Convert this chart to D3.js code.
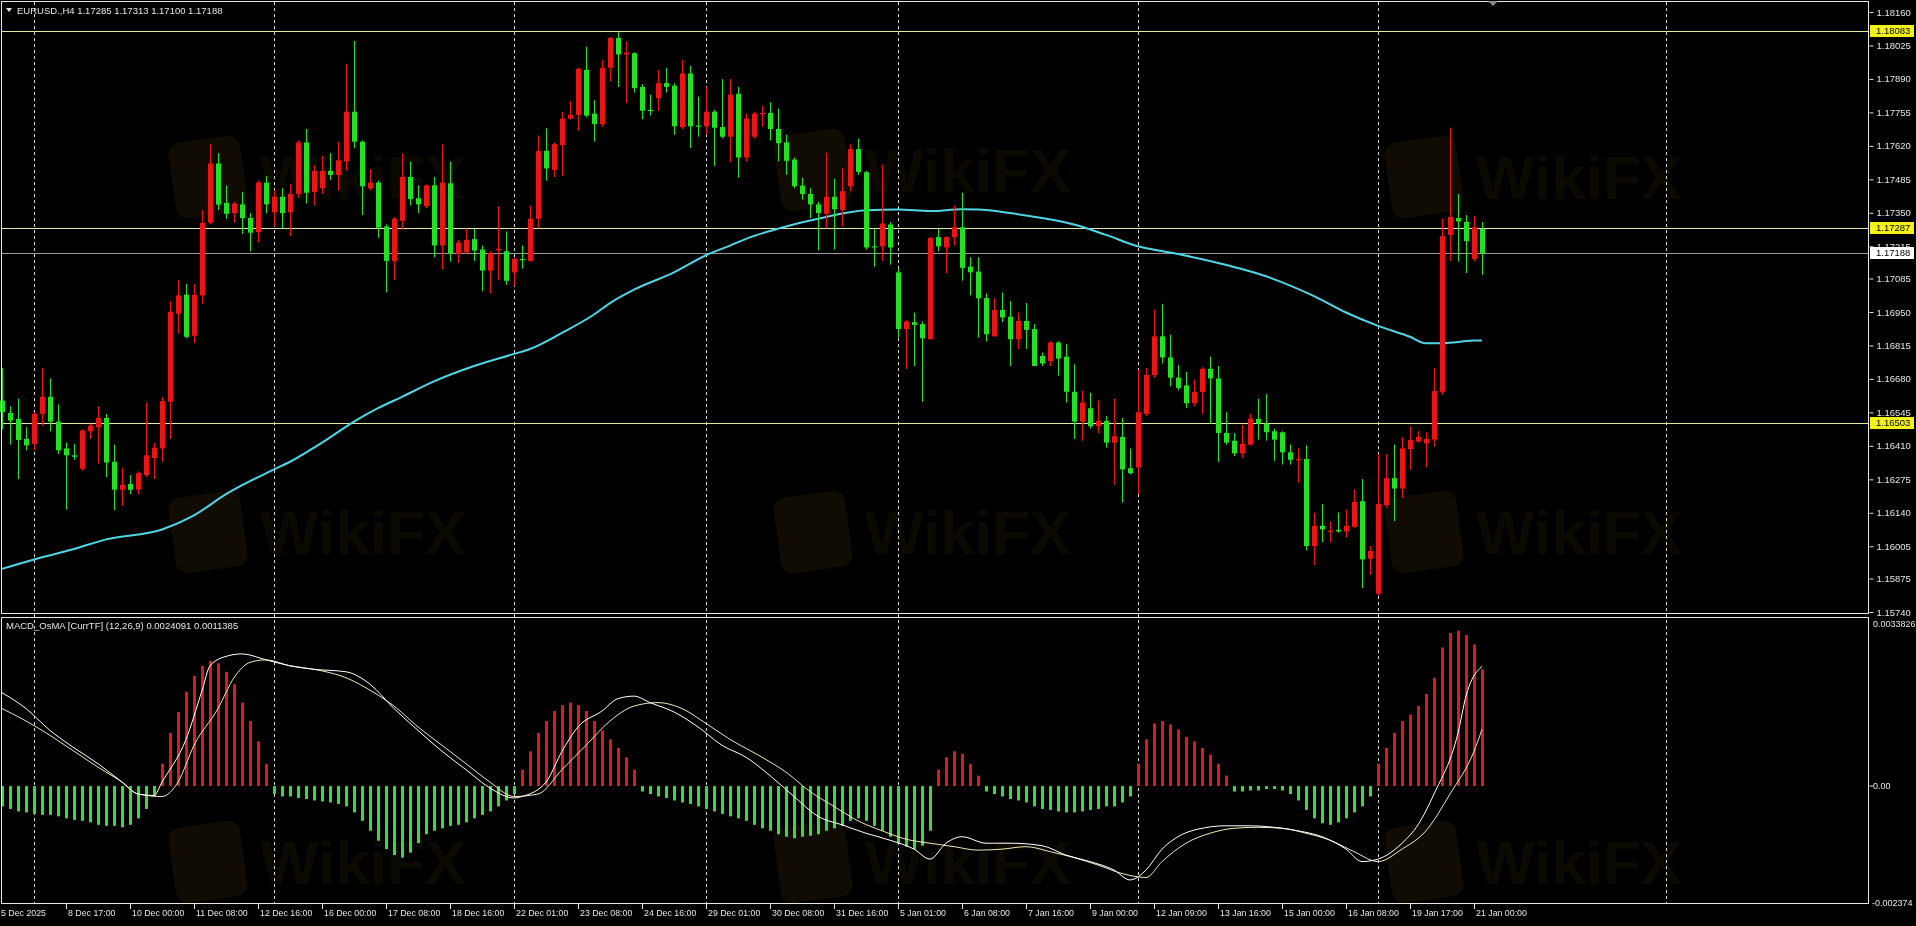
<!DOCTYPE html>
<html><head><meta charset="utf-8">
<script src="https://cdn.jsdelivr.net/npm/d3@7"></script>
<style>html,body{margin:0;padding:0;background:#000;overflow:hidden}</style>
</head><body><svg id="c" width="1916" height="926"></svg>
<script>
// ---------- DATA ----------
const symbolTitle = "EURUSD.,H4  1.17285 1.17313 1.17100 1.17188";
const macdTitle = "MACD_OsMA [CurrTF] (12,26,9) 0.0024091 0.0011385";

const open = [
1.16593,1.16543,1.16519,1.16438,1.16418,1.16539,1.16608,1.16508,1.16400,1.16372,
1.16318,1.16469,1.16485,1.16523,1.16346,1.16233,1.16256,1.16233,1.16292,1.16361,
1.16400,1.16588,1.16943,1.17020,1.16854,1.17017,1.17310,1.17549,1.17390,1.17349,
1.17384,1.17329,1.17272,1.17472,1.17352,1.17415,1.17352,1.17426,1.17634,1.17434,
1.17449,1.17519,1.17503,1.17557,1.17758,1.17637,1.17449,1.17472,1.17295,1.17156,
1.17318,1.17495,1.17409,1.17377,1.17461,1.17218,1.17469,1.17184,1.17191,1.17244,
1.17202,1.17117,1.17199,1.17195,1.17110,1.17164,1.17156,1.17326,1.17600,1.17523,
1.17623,1.17730,1.17745,1.17927,1.17750,1.17708,1.17935,1.18055,1.17989,1.17994,
1.17858,1.17765,1.17812,1.17873,1.17863,1.17696,1.17912,1.17702,1.17699,1.17758,
1.17696,1.17657,1.17830,1.17573,1.17657,1.17750,1.17753,1.17688,1.17634,1.17565,
1.17460,1.17426,1.17384,1.17346,1.17415,1.17361,1.17457,1.17607,1.17514,1.17215,
1.17215,1.17303,1.17110,1.16881,1.16909,1.16901,1.16840,1.17252,1.17210,1.17252,
1.17292,1.17133,1.17113,1.17006,1.16852,1.16958,1.16931,1.16840,1.16914,1.16881,
1.16773,1.16752,1.16827,1.16770,1.16628,1.16508,1.16562,1.16489,1.16511,1.16423,
1.16446,1.16320,1.16323,1.16539,1.16696,1.16852,1.16767,1.16685,1.16654,1.16582,
1.16627,1.16721,1.16682,1.16462,1.16431,1.16380,1.16415,1.16519,1.16500,1.16469,
1.16465,1.16384,1.16354,1.16357,1.16006,1.16088,1.16063,1.16071,1.16065,1.16084,
1.16187,1.15955,1.15814,1.16171,1.16280,1.16238,1.16397,1.16428,1.16420,1.16435,
1.16628,1.17261,1.17329,1.17313,1.17164,1.17285];
const high = [
1.16724,1.16570,1.16600,1.16485,1.16546,1.16724,1.16682,1.16577,1.16423,1.16418,
1.16477,1.16500,1.16570,1.16539,1.16415,1.16323,1.16292,1.16307,1.16585,1.16423,
1.16608,1.16994,1.17079,1.17063,1.17063,1.17361,1.17627,1.17591,1.17461,1.17395,
1.17434,1.17349,1.17480,1.17498,1.17441,1.17449,1.17465,1.17642,1.17688,1.17542,
1.17580,1.17591,1.17637,1.17951,1.18043,1.17642,1.17526,1.17480,1.17303,1.17333,
1.17588,1.17557,1.17461,1.17465,1.17495,1.17627,1.17557,1.17241,1.17287,1.17286,
1.17218,1.17195,1.17377,1.17275,1.17171,1.17218,1.17380,1.17662,1.17691,1.17634,
1.17758,1.17801,1.17935,1.18020,1.17804,1.17966,1.18059,1.18079,1.18040,1.17997,
1.17869,1.17827,1.17927,1.17935,1.17873,1.17966,1.17943,1.17819,1.17858,1.17765,
1.17889,1.17889,1.17858,1.17750,1.17758,1.17781,1.17796,1.17770,1.17665,1.17573,
1.17492,1.17449,1.17395,1.17593,1.17488,1.17529,1.17627,1.17650,1.17519,1.17287,
1.17545,1.17313,1.17125,1.16917,1.16948,1.16912,1.17252,1.17287,1.17256,1.17380,
1.17431,1.17171,1.17171,1.17025,1.17005,1.17029,1.16994,1.16948,1.16986,1.16901,
1.16786,1.16832,1.16832,1.16820,1.16739,1.16631,1.16624,1.16593,1.16531,1.16600,
1.16523,1.16400,1.16716,1.16724,1.16960,1.16983,1.16858,1.16736,1.16708,1.16678,
1.16727,1.16770,1.16732,1.16546,1.16462,1.16495,1.16539,1.16600,1.16619,1.16480,
1.16469,1.16415,1.16400,1.16412,1.16141,1.16176,1.16104,1.16142,1.16153,1.16233,
1.16276,1.16006,1.16377,1.16377,1.16415,1.16446,1.16488,1.16469,1.16465,1.16724,
1.17326,1.17693,1.17426,1.17341,1.17338,1.17313];
const low = [
1.16477,1.16415,1.16276,1.16392,1.16392,1.16492,1.16469,1.16377,1.16153,1.16354,
1.16310,1.16438,1.16338,1.16284,1.16150,1.16168,1.16215,1.16215,1.16284,1.16276,
1.16346,1.16438,1.16863,1.16844,1.16824,1.16983,1.17303,1.17361,1.17326,1.17310,
1.17264,1.17195,1.17230,1.17349,1.17295,1.17287,1.17256,1.17411,1.17387,1.17380,
1.17426,1.17483,1.17441,1.17519,1.17611,1.17341,1.17441,1.17249,1.17029,1.17079,
1.17282,1.17380,1.17349,1.17369,1.17171,1.17122,1.17153,1.17148,1.17184,1.17156,
1.17033,1.17025,1.17079,1.17060,1.17056,1.17125,1.17153,1.17287,1.17480,1.17495,
1.17498,1.17727,1.17681,1.17735,1.17637,1.17696,1.17881,1.17858,1.17792,1.17835,
1.17727,1.17742,1.17761,1.17835,1.17665,1.17688,1.17611,1.17657,1.17665,1.17539,
1.17650,1.17554,1.17492,1.17557,1.17650,1.17699,1.17642,1.17557,1.17503,1.17449,
1.17403,1.17329,1.17199,1.17287,1.17202,1.17295,1.17437,1.17503,1.17202,1.17133,
1.17156,1.17141,1.16847,1.16721,1.16732,1.16588,1.16840,1.17195,1.17107,1.17218,
1.17076,1.17017,1.16847,1.16832,1.16850,1.16909,1.16732,1.16801,1.16801,1.16732,
1.16732,1.16732,1.16693,1.16585,1.16438,1.16431,1.16480,1.16462,1.16403,1.16253,
1.16181,1.16295,1.16215,1.16531,1.16685,1.16742,1.16650,1.16634,1.16562,1.16570,
1.16539,1.16500,1.16346,1.16415,1.16369,1.16361,1.16412,1.16435,1.16431,1.16350,
1.16335,1.16335,1.16261,1.15988,1.15929,1.16022,1.16022,1.16060,1.16042,1.16079,
1.15837,1.15890,1.15806,1.16161,1.16107,1.16199,1.16315,1.16423,1.16323,1.16408,
1.16616,1.17156,1.17153,1.17107,1.17156,1.17100];
const close = [
1.16546,1.16512,1.16434,1.16412,1.16539,1.16608,1.16508,1.16392,1.16372,1.16366,
1.16472,1.16492,1.16523,1.16343,1.16233,1.16253,1.16233,1.16300,1.16372,1.16403,
1.16590,1.16951,1.17017,1.16850,1.17020,1.17310,1.17549,1.17383,1.17346,1.17387,
1.17329,1.17270,1.17472,1.17384,1.17415,1.17349,1.17426,1.17634,1.17431,1.17519,
1.17519,1.17503,1.17562,1.17758,1.17637,1.17457,1.17472,1.17290,1.17156,1.17326,
1.17495,1.17406,1.17384,1.17461,1.17218,1.17472,1.17184,1.17230,1.17241,1.17198,
1.17117,1.17187,1.17205,1.17076,1.17164,1.17159,1.17326,1.17599,1.17529,1.17627,
1.17730,1.17745,1.17931,1.17742,1.17708,1.17935,1.18055,1.17989,1.17997,1.17853,
1.17762,1.17762,1.17873,1.17858,1.17699,1.17912,1.17699,1.17699,1.17758,1.17693,
1.17657,1.17827,1.17573,1.17730,1.17750,1.17753,1.17688,1.17631,1.17560,1.17457,
1.17426,1.17384,1.17349,1.17415,1.17364,1.17437,1.17607,1.17515,1.17210,1.17212,
1.17307,1.17210,1.16881,1.16912,1.16898,1.16844,1.17249,1.17215,1.17252,1.17292,
1.17128,1.17110,1.17005,1.16860,1.16958,1.16928,1.16840,1.16914,1.16878,1.16732,
1.16742,1.16827,1.16762,1.16628,1.16508,1.16585,1.16489,1.16511,1.16423,1.16449,
1.16315,1.16300,1.16546,1.16696,1.16852,1.16767,1.16685,1.16644,1.16582,1.16628,
1.16721,1.16682,1.16462,1.16423,1.16380,1.16418,1.16520,1.16500,1.16465,1.16435,
1.16384,1.16354,1.16357,1.16006,1.16088,1.16073,1.16068,1.16065,1.16088,1.16184,
1.15952,1.15986,1.16176,1.16280,1.16238,1.16400,1.16434,1.16446,1.16438,1.16631,
1.17256,1.17333,1.17315,1.17236,1.17292,1.17188];

// moving average (bar index, value)
const maPoints = [[0,1.15914],[4,1.15952],[9,1.15994],[13,1.16033],[20,1.16073],[24,1.16130],[28,1.16215],[34,1.16315],[36,1.16346],[40,1.16423],[44,1.16508],[47,1.16562],[50,1.16608],[54,1.16670],[59,1.16732],[64,1.16781],[66,1.16801],[70,1.16866],[74,1.16940],[76,1.16986],[79,1.17040],[84,1.17110],[88,1.17179],[91,1.17218],[93,1.17245],[98,1.17295],[102,1.17326],[108,1.17360],[112,1.17363],[116,1.17357],[120,1.17364],[122,1.17363],[126,1.17349],[130,1.17329],[134,1.17303],[138,1.17261],[142,1.17215],[146,1.17190],[152,1.17148],[158,1.17094],[164,1.17014],[168,1.16948],[172,1.16894],[176,1.16850],[178,1.16824],[180,1.16824],[182,1.16829],[184,1.16835],[185,1.16835]];

// MACD histogram, one per bar
const histValues = [
-0.00041,-0.00046,-0.00051,-0.00053,-0.00056,-0.00058,-0.00058,-0.00061,-0.00065,-0.00068,
-0.00070,-0.00073,-0.00078,-0.00080,-0.00080,-0.00083,-0.00078,-0.00065,-0.00046,-0.00021,
0.00045,0.00107,0.00149,0.00190,0.00222,0.00242,0.00252,0.00247,0.00230,0.00205,0.00168,0.00131,0.00090,0.00045,
-0.00016,-0.00021,-0.00021,-0.00024,-0.00026,-0.00029,-0.00031,-0.00033,-0.00036,-0.00041,-0.00053,-0.00070,-0.00090,-0.00110,-0.00127,-0.00139,-0.00144,-0.00134,-0.00115,-0.00097,-0.00090,-0.00085,-0.00080,-0.00078,-0.00073,-0.00065,-0.00058,-0.00051,-0.00041,-0.00029,-0.00016,
0.00033,0.00070,0.00107,0.00131,0.00151,0.00163,0.00168,0.00163,0.00151,0.00131,0.00112,0.00094,0.00077,0.00058,0.00033,
-0.00011,-0.00016,-0.00021,-0.00024,-0.00029,-0.00033,-0.00036,-0.00041,-0.00046,-0.00051,-0.00056,-0.00061,-0.00065,-0.00070,-0.00078,-0.00085,-0.00090,-0.00097,-0.00102,-0.00105,-0.00102,-0.00100,-0.00097,-0.00090,-0.00085,-0.00080,-0.00070,-0.00065,-0.00070,-0.00080,-0.00090,-0.00102,-0.00115,-0.00122,-0.00127,-0.00120,-0.00090,
0.00033,0.00058,0.00070,0.00065,0.00045,0.00021,
-0.00011,-0.00016,-0.00021,-0.00026,-0.00029,-0.00033,-0.00041,-0.00046,-0.00048,-0.00051,-0.00053,-0.00053,-0.00051,-0.00048,-0.00046,-0.00041,-0.00041,-0.00033,-0.00021,
0.00045,0.00094,0.00126,0.00131,0.00124,0.00114,0.00099,0.00090,0.00077,0.00063,0.00045,0.00021,
-0.00011,-0.00011,-0.00009,-0.00009,-0.00006,-0.00006,-0.00009,-0.00016,-0.00029,-0.00048,-0.00065,-0.00075,-0.00078,-0.00073,-0.00065,-0.00053,-0.00041,-0.00021,
0.00045,0.00077,0.00107,0.00131,0.00144,0.00161,0.00185,0.00218,0.00279,0.00308,0.00313,0.00304,0.00285,0.00235];

const macdLine = [[0,0.00188],[3,0.00156],[6,0.00112],[9,0.00077],[12,0.00045],[15,0.00008],[17,-0.00016],[19,-0.00019],[20,0.00008],[23,0.00094],[25,0.00192],[26,0.00242],[28,0.00261],[30,0.00266],[33,0.00254],[36,0.00242],[39,0.00235],[43,0.00230],[46,0.00205],[49,0.00156],[52,0.00112],[55,0.00070],[58,0.00033],[61,-0.00004],[64,-0.00024],[65,-0.00021],[68,0.00008],[70,0.00070],[72,0.00119],[75,0.00151],[77,0.00176],[79,0.00181],[81,0.00168],[84,0.00149],[87,0.00119],[90,0.00082],[93,0.00058],[96,0.00021],[99,-0.00021],[102,-0.00061],[105,-0.00078],[108,-0.00095],[111,-0.00109],[114,-0.00127],[116,-0.00147],[118,-0.00115],[120,-0.00102],[123,-0.00115],[126,-0.00115],[130,-0.00120],[133,-0.00139],[136,-0.00152],[139,-0.00169],[141,-0.00189],[143,-0.00169],[145,-0.00127],[147,-0.00102],[150,-0.00085],[153,-0.00080],[156,-0.00080],[159,-0.00083],[162,-0.00090],[165,-0.00102],[168,-0.00127],[170,-0.00152],[172,-0.00147],[175,-0.00115],[177,-0.00078],[179,-0.00016],[182,0.00107],[183,0.00181],[185,0.00241]];
const signalLine = [[0,0.00156],[3,0.00131],[6,0.00102],[9,0.00070],[12,0.00038],[15,0.00008],[17,-0.00016],[20,-0.00021],[22,0.00008],[24,0.00082],[27,0.00156],[29,0.00218],[31,0.00249],[33,0.00254],[36,0.00242],[39,0.00235],[43,0.00218],[46,0.00193],[49,0.00161],[52,0.00119],[55,0.00082],[58,0.00045],[61,0.00008],[64,-0.00021],[67,-0.00016],[70,0.00033],[73,0.00082],[76,0.00131],[79,0.00161],[82,0.00168],[85,0.00156],[88,0.00126],[91,0.00094],[95,0.00058],[98,0.00028],[101,-0.00011],[104,-0.00041],[107,-0.00070],[110,-0.00090],[113,-0.00107],[116,-0.00115],[119,-0.00122],[122,-0.00129],[125,-0.00127],[128,-0.00122],[131,-0.00132],[134,-0.00144],[137,-0.00159],[140,-0.00176],[143,-0.00184],[145,-0.00152],[148,-0.00115],[151,-0.00095],[154,-0.00085],[157,-0.00083],[160,-0.00085],[163,-0.00095],[166,-0.00109],[169,-0.00132],[172,-0.00152],[175,-0.00127],[178,-0.00090],[181,-0.00016],[184,0.00070],[185,0.00114]];

const priceTicks = [1.18160,1.18025,1.17890,1.17755,1.17620,1.17485,1.17350,1.17215,1.17085,1.16950,1.16815,1.16680,1.16545,1.16410,1.16275,1.16140,1.16005,1.15875,1.15740];
const levelLines = [1.18083,1.17287,1.16503];
const bidPrice = 1.17188;
const macdTickLabels = ["0.0033826","0.00","-0.002374"];
const macdTickValues = [0.0033826,0,-0.002374];
const timeLabels = ["5 Dec 2025","8 Dec 17:00","10 Dec 00:00","11 Dec 08:00","12 Dec 16:00","16 Dec 00:00","17 Dec 08:00","18 Dec 16:00","22 Dec 01:00","23 Dec 08:00","24 Dec 16:00","29 Dec 01:00","30 Dec 08:00","31 Dec 16:00","5 Jan 01:00","6 Jan 08:00","7 Jan 16:00","9 Jan 00:00","12 Jan 09:00","13 Jan 16:00","15 Jan 00:00","16 Jan 08:00","19 Jan 17:00","21 Jan 00:00"];
const timeLabelBars = [0,8,16,24,32,40,48,56,64,72,80,88,96,104,112,120,128,136,144,152,160,168,176,184];
const weekBars = [4,34,64,88,112,142,172,208];

// ---------- DRAW ----------
const FONT = '"Liberation Sans", Arial, sans-serif';
const svg = d3.select('#c');
svg.append('rect').attr('width',1916).attr('height',926).attr('fill','#000');

const x = d3.scaleLinear().domain([0,185]).range([2,1482]);
const yP = d3.scaleLinear().domain([1.15740,1.18160]).range([612,12]);
const yM = d3.scaleLinear().domain([-0.002374,0.0033826]).range([904,618]);

// watermark (faint)
const wm = svg.append('g').attr('opacity',0.4);
[[208,177],[813,170],[1424,177],[208,532],[813,532],[1424,532],[208,862],[813,862],[1424,862]].forEach(([cx,cy])=>{
  wm.append('rect').attr('x',cx-36).attr('y',cy-38).attr('width',72).attr('height',76).attr('rx',12)
    .attr('fill','#2a200a').attr('transform',`rotate(-8,${cx},${cy})`);
  wm.append('text').attr('x',cx+52).attr('y',cy+22).text('WikiFX')
    .attr('font-family',FONT).attr('font-weight','bold').attr('font-size',62)
    .attr('fill','#1f1707');
});

// week grid
svg.append('g').selectAll('line').data(weekBars).join('line')
  .attr('x1',d=>x(d)+0.5).attr('x2',d=>x(d)+0.5).attr('y1',2).attr('y2',904)
  .attr('stroke','#d8d8d8').attr('stroke-width',1).attr('stroke-dasharray','3,3');

// level lines
svg.append('g').selectAll('line').data(levelLines).join('line')
  .attr('x1',1).attr('x2',1869).attr('y1',d=>Math.round(yP(d))+0.5).attr('y2',d=>Math.round(yP(d))+0.5)
  .attr('stroke','#e6e6a8').attr('stroke-width',1);
svg.append('line').attr('x1',1).attr('x2',1869).attr('y1',Math.round(yP(bidPrice))+0.5).attr('y2',Math.round(yP(bidPrice))+0.5)
  .attr('stroke','#9c9c9c').attr('stroke-width',1);

// MA
svg.append('path').datum(maPoints)
  .attr('d',d3.line().x(d=>x(d[0])).y(d=>yP(d[1])).curve(d3.curveMonotoneX))
  .attr('fill','none').attr('stroke','#4fd6e6').attr('stroke-width',2);

// candles
const RED='#ec1414', GREEN='#22e022';
const idx = d3.range(open.length);
const cg = svg.append('g');
cg.selectAll('line').data(idx).join('line')
  .attr('x1',i=>x(i)+0.5).attr('x2',i=>x(i)+0.5)
  .attr('y1',i=>yP(high[i])).attr('y2',i=>yP(low[i]))
  .attr('stroke',i=>close[i]>=open[i]?RED:GREEN).attr('stroke-width',1);
cg.selectAll('rect').data(idx).join('rect')
  .attr('x',i=>x(i)-2).attr('width',5)
  .attr('y',i=>yP(Math.max(open[i],close[i])))
  .attr('height',i=>Math.max(1.2,Math.abs(yP(open[i])-yP(close[i]))))
  .attr('fill',i=>close[i]>=open[i]?RED:GREEN);

// MACD histogram
svg.append('g').selectAll('rect').data(idx).join('rect')
  .attr('x',i=>x(i)-1).attr('width',3)
  .attr('y',i=>Math.min(yM(0),yM(histValues[i])))
  .attr('height',i=>Math.abs(yM(histValues[i])-yM(0)))
  .attr('fill',i=>histValues[i]>=0?'#d61c1c':'#3ed83e');

// MACD lines
const ml = d3.line().x(d=>x(d[0])).y(d=>yM(d[1])).curve(d3.curveMonotoneX);
svg.append('path').datum(signalLine).attr('d',ml).attr('fill','none').attr('stroke','#ece8b8').attr('stroke-width',1);
svg.append('path').datum(macdLine).attr('d',ml).attr('fill','none').attr('stroke','#ffffff').attr('stroke-width',1);

// frames
const fr = svg.append('g').attr('fill','none').attr('stroke','#e8e8e8').attr('stroke-width',1);
fr.append('rect').attr('x',1.5).attr('y',1.5).attr('width',1867).attr('height',612);
fr.append('rect').attr('x',1.5).attr('y',617.5).attr('width',1867).attr('height',286);

// price axis
const pa = svg.append('g').attr('transform','translate(1869.5,0)')
  .call(d3.axisRight(yP).tickValues(priceTicks).tickFormat(d3.format('.5f')).tickSizeInner(4).tickSizeOuter(0).tickPadding(3));
pa.select('.domain').remove();
pa.selectAll('line').attr('stroke','#e0e0e0');
pa.selectAll('text').attr('fill','#e6e6e6').attr('font-family',FONT).attr('font-size','9.5px');

// highlighted labels
function tag(v, bg){
  const yy = Math.round(yP(v));
  svg.append('rect').attr('x',1870).attr('y',yy-6).attr('width',44).attr('height',12).attr('fill',bg);
  svg.append('text').attr('x',1876).attr('y',yy).attr('dy','0.35em').text(d3.format('.5f')(v))
    .attr('fill','#000').attr('font-family',FONT).attr('font-size','9.5px');
}
levelLines.forEach(v=>tag(v,'#f2f21a'));
tag(bidPrice,'#ffffff');

// macd axis labels
svg.append('line').attr('x1',1869.5).attr('x2',1873).attr('y1',yM(0)).attr('y2',yM(0)).attr('stroke','#e0e0e0');
svg.append('g').selectAll('text').data(macdTickValues).join('text')
  .attr('x',(d,i)=>i===2?1872:1873)
  .attr('y',(d,i)=>i===0?624:(i===2?903:yM(d)))
  .attr('dy','0.35em')
  .text((d,i)=>macdTickLabels[i])
  .attr('fill','#e6e6e6').attr('font-family',FONT).attr('font-size','9px');

// time axis
const ta = svg.append('g');
ta.selectAll('line').data(timeLabelBars.slice(1)).join('line')
  .attr('x1',d=>x(d)+0.5).attr('x2',d=>x(d)+0.5).attr('y1',904).attr('y2',909)
  .attr('stroke','#e0e0e0');
ta.selectAll('text').data(timeLabelBars).join('text')
  .attr('x',(d,i)=>i===0?1:x(d)+2).attr('y',916)
  .text((d,i)=>timeLabels[i])
  .attr('fill','#e6e6e6').attr('font-family',FONT).attr('font-size','8.8px');

// titles
svg.append('path').attr('d','M6,8 L12,8 L9,12 Z').attr('fill','#e6e6e6');
svg.append('text').attr('x',17).attr('y',14).text(symbolTitle)
  .attr('fill','#e6e6e6').attr('font-family',FONT).attr('font-size','9.5px');
svg.append('text').attr('x',6).attr('y',629).text(macdTitle)
  .attr('fill','#e6e6e6').attr('font-family',FONT).attr('font-size','9.5px');
// shift marker
svg.append('path').attr('d','M1488,1 L1498,1 L1493,6 Z').attr('fill','#8a8a8a');
</script>
</body></html>
